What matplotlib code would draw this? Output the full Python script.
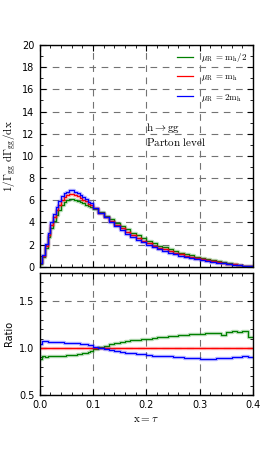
import numpy as np
import matplotlib
matplotlib.use("Agg")
import matplotlib.pyplot as plt
from matplotlib.ticker import MultipleLocator

plt.rcParams["mathtext.fontset"] = "cm"
plt.rcParams["font.family"] = "DejaVu Sans"
plt.rcParams["font.size"] = 7

# ---------------- data ----------------
# bin edges: 0.005 wide below x=0.1, 0.01 wide above
edges = np.concatenate([np.arange(0.0, 0.1, 0.005), np.arange(0.1, 0.4001, 0.01)])

# central scale (mu_R = m_h), 1/Gamma dGamma/dx
central = [0.3, 1.0, 1.9, 2.9, 3.8, 4.5, 5.1, 5.6, 6.0, 6.3,
           6.45, 6.55, 6.55, 6.45, 6.35, 6.2, 6.05, 5.9, 5.7, 5.55,
           5.25, 4.85, 4.5, 4.1, 3.75, 3.45, 3.15, 2.85, 2.6, 2.35,
           2.1, 1.9, 1.7, 1.55, 1.4, 1.25, 1.1, 1.0, 0.88, 0.78,
           0.68, 0.58, 0.5, 0.42, 0.34, 0.27, 0.2, 0.14, 0.08, 0.03]

# ratio to central, mu_R = m_h/2
ratio_half = [0.88, 0.91, 0.90, 0.92, 0.91, 0.91, 0.92, 0.92, 0.92, 0.92,
              0.93, 0.93, 0.93, 0.93, 0.94, 0.94, 0.95, 0.95, 0.96, 0.97,
              0.99, 1.01, 1.02, 1.04, 1.05, 1.06, 1.07, 1.08, 1.09, 1.10,
              1.10, 1.11, 1.12, 1.12, 1.13, 1.13, 1.14, 1.14, 1.15, 1.15,
              1.15, 1.16, 1.16, 1.16, 1.14, 1.17, 1.18, 1.17, 1.18, 1.12]

# ratio to central, mu_R = 2 m_h
ratio_two = [1.04, 1.07, 1.07, 1.06, 1.06, 1.06, 1.06, 1.06, 1.06, 1.05,
             1.05, 1.05, 1.05, 1.05, 1.05, 1.04, 1.04, 1.04, 1.03, 1.03,
             1.01, 1.00, 0.99, 0.98, 0.97, 0.96, 0.95, 0.95, 0.94, 0.94,
             0.93, 0.92, 0.92, 0.91, 0.91, 0.90, 0.90, 0.89, 0.89, 0.89,
             0.88, 0.88, 0.88, 0.89, 0.89, 0.89, 0.90, 0.90, 0.91, 0.90]

labels = [r"$\mu_\mathrm{R}\ =\mathrm{m_h/2}$",
          r"$\mu_\mathrm{R}\ =\mathrm{m_h}$",
          r"$\mu_\mathrm{R}\ =\mathrm{2m_h}$"]
colors = ["green", "red", "blue"]

central = np.array(central)
ratios = [np.array(ratio_half), np.ones(len(central)), np.array(ratio_two)]
series = [central * r for r in ratios]


def step(ax, vals, color, label=None):
    v = np.append(vals, vals[-1])
    ax.step(edges, v, where="post", color=color, lw=2.5, alpha=0.25)
    ax.step(edges, v, where="post", color=color, lw=0.9, label=label)


# ---------------- figure ----------------
fig = plt.figure(figsize=(2.66, 4.65), dpi=100)
ax1 = fig.add_axes([0.1485, 0.4265, 0.8026, 0.4767])
ax2 = fig.add_axes([0.1485, 0.1505, 0.8026, 0.263])

for vals, c, lab in zip(series, colors, labels):
    step(ax1, vals, c, lab)
for r, c in zip(ratios, colors):
    step(ax2, r, c)

for ax in (ax1, ax2):
    ax.set_xlim(0, 0.4)
    ax.xaxis.set_major_locator(MultipleLocator(0.1))
    ax.xaxis.set_minor_locator(MultipleLocator(0.02))
    ax.tick_params(which="both", direction="in", top=True, right=True)
    ax.tick_params(which="major", length=4)
    ax.tick_params(which="minor", length=2)
    ax.grid(True, which="major", ls=(0, (6, 5)), color="0.45", lw=0.8)
    for s in ax.spines.values():
        s.set_linewidth(1.0)

ax1.set_ylim(0, 20)
ax1.yaxis.set_major_locator(MultipleLocator(2))
ax1.yaxis.set_minor_locator(MultipleLocator(1))
ax1.tick_params(labelbottom=False)
ax1.set_ylabel(r"$\mathrm{1/\Gamma_{gg}\ d\Gamma_{gg}/dx}$", fontsize=8, labelpad=2)
ax1.text(0.2, 12.2, r"$\mathrm{h \rightarrow gg}$", fontsize=8, ha="left", va="baseline")
ax1.text(0.2, 10.9, r"$\mathrm{Parton\ level}$", fontsize=8, ha="left", va="baseline")
leg = ax1.legend(loc="upper right", frameon=False, fontsize=6.5,
                 handlelength=1.8, borderaxespad=0.3, labelspacing=0.9)

ax2.set_ylim(0.5, 1.8)
ax2.yaxis.set_major_locator(MultipleLocator(0.5))
ax2.yaxis.set_minor_locator(MultipleLocator(0.1))
ax2.set_ylabel("Ratio", fontsize=7, labelpad=4)
ax2.set_xlabel(r"$\mathrm{x = \tau}$", fontsize=8, labelpad=3)

fig.savefig("out.png", dpi=100)
